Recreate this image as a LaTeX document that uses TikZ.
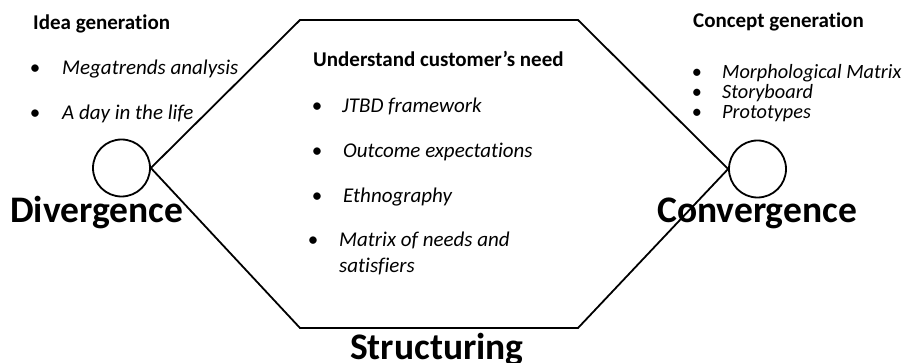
\documentclass[tikz,border=0pt]{standalone}
\usepackage{fontspec}
\setmainfont{Carlito}[Ligatures={NoCommon}]
\begin{document}
\begin{tikzpicture}[x=1pt,y=-1pt,
  hdr/.style={anchor=base west,inner sep=0pt,font=\fontsize{21}{25}\selectfont\bfseries},
  itm/.style={anchor=base west,inner sep=0pt,font=\fontsize{21}{25}\selectfont\itshape},
  bul/.style={anchor=base,inner sep=0pt,font=\fontsize{21}{25}\selectfont},
  itms/.style={anchor=base west,inner sep=0pt,font=\fontsize{20.3}{24}\selectfont\itshape},
  buls/.style={anchor=base,inner sep=0pt,font=\fontsize{20.3}{24}\selectfont},
  big/.style={anchor=base west,inner sep=0pt,font=\fontsize{37.5}{42}\selectfont\bfseries},
  ring/.style={circle,draw,line width=1.8pt,minimum size=57pt,inner sep=0pt},
  edge/.style={line width=1.8pt,line join=miter}]
\useasboundingbox (0,0) rectangle (912,363);
% circles
\node[ring] (L) at (121.5,168) {};
\node[ring] (R) at (757.5,169) {};
% hexagon corners
\coordinate (TL) at (300,20);
\coordinate (TR) at (578,20);
\coordinate (BR) at (578,328);
\coordinate (BL) at (300,328);
% big labels
\node[big] (div) at (10,223) {Divergence};
\node[big] (con) at (657,223) {Convergence};
\node[big] (str) at (350,359) {Structuring};
% hexagon
\draw[edge] (L.east) -- (TL) -- (TR) -- (R.west) -- (BR) -- (BL) -- (L.east);
% left block
\node[hdr] (idea) at (33,30) {Idea generation};
\node[bul] (b1) at (35,75) {•};
\node[itm] (i1) at (62,75) {Megatrends analysis};
\node[bul] (b2) at (35,120) {•};
\node[itm] (i2) at (62,120) {A day in the life};
% center block
\node[hdr] (und) at (313,67) {Understand customer’s need};
\node[bul] (c1) at (317,113) {•};
\node[itm] (t1) at (342,113) {JTBD framework};
\node[bul] (c2) at (317,158) {•};
\node[itm] (t2) at (343,158) {Outcome expectations};
\node[bul] (c3) at (317,203) {•};
\node[itm] (t3) at (343,203) {Ethnography};
\node[bul] (c4) at (313,247) {•};
\node[itm] (t4) at (339,247) {Matrix of needs and};
\node[itm] (t5) at (339,272) {satisfiers};
% right block
\node[hdr] (conc) at (693,28) {Concept generation};
\node[buls] (r1) at (697,79) {•};
\node[itms] (s1) at (722,79) {Morphological Matrix};
\node[buls] (r2) at (697,99) {•};
\node[itms] (s2) at (722,99) {Storyboard};
\node[buls] (r3) at (697,119) {•};
\node[itms] (s3) at (722,119) {Prototypes};
\end{tikzpicture}
\end{document}
